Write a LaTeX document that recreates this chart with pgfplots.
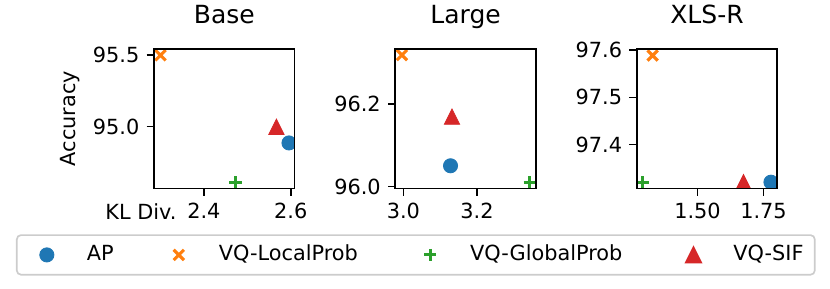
\documentclass[border=0pt]{standalone}
\usepackage{fontspec}
\setmainfont{DejaVu Sans}
\usepackage{pgfplots}
\pgfplotsset{compat=1.18}
\definecolor{tabblue}{HTML}{1F77B4}
\definecolor{taborange}{HTML}{FF7F0E}
\definecolor{tabgreen}{HTML}{2CA02C}
\definecolor{tabred}{HTML}{D62728}
\definecolor{legframe}{HTML}{CCCCCC}
\pgfplotsset{
  myax/.style={
    scale only axis, width=67.5pt, height=67pt, anchor=south west,
    axis line style={line width=0.8pt, black},
    tick align=outside, major tick length=3.5pt,
    every tick/.style={line width=0.8pt, black},
    tick pos=left,
    /pgf/number format/assume math mode=true,
    tick label style={font=\fontsize{10}{12}\selectfont},
    yticklabel style={/pgf/number format/.cd, fixed, fixed zerofill, precision=1},
    xticklabel style={/pgf/number format/.cd, fixed, fixed zerofill, precision=1},
    title style={at={(0.5,1)}, anchor=base, yshift=6.2pt, inner sep=0pt, font=\fontsize{12}{14}\selectfont},
    clip marker paths=true, axis on top,
  },
  myleg/.style={legend image code/.code={\path[draw=none,fill=none] (-14.4pt,0pt) -- (5pt,0pt); \draw[##1, /tikz/only marks] plot coordinates {(0pt,0pt)};}},
  ap/.style={only marks, mark=*, mark size=3.4pt, color=tabblue, line width=0.4pt, mark options={draw=tabblue, fill=tabblue, line width=0.4pt}, myleg},
  lp/.style={only marks, mark=x, mark size=3.5pt, color=taborange, line width=1.5pt, mark options={line width=1.5pt}, myleg},
  gp/.style={only marks, mark=+, mark size=2.95pt, color=tabgreen, line width=1.5pt, mark options={line width=1.5pt}, myleg},
  sif/.style={only marks, mark=triangle*, mark size=4.9pt, color=tabred, mark options={fill=tabred, draw=none, xscale=0.866, yshift=-1.225pt, sharp corners}, myleg},
}
\begin{document}
\begin{tikzpicture}
\useasboundingbox (0,0) rectangle (398.4pt,138.72pt);
% Base
\begin{axis}[myax, at={(73.92pt,48.24pt)}, title={Base},
  xmin=2.285, xmax=2.609, ymin=94.5655, ymax=95.5445,
  xtick={2.4,2.6}, ytick={95.0,95.5},
  xlabel={KL Div.},
  xlabel style={at={(0,0)}, anchor=base east, xshift=11pt, yshift=-14.7pt, inner sep=0pt, font=\fontsize{10}{12}\selectfont},
  ylabel={Accuracy},
  ylabel style={at={(-0.526,0.5)}, anchor=south, inner sep=0pt, font=\fontsize{10}{12}\selectfont},
  legend columns=4,
  legend style={at={(0,0)}, anchor=north west, xshift=-66.24pt, yshift=-21.98pt,
    draw=legframe, line width=0.8pt, rounded corners=2pt, fill=white,
    inner xsep=0pt, inner ysep=4.5pt, column sep=0pt,
    nodes={inner sep=0pt, text height=7.5pt, text depth=2.5pt, font=\fontsize{10}{12}\selectfont}},
]
\addplot[ap] coordinates {(2.596,94.885)};
\addlegendentry{\hspace*{14.2pt}\makebox[29.76pt][l]{AP}}
\addplot[lp] coordinates {(2.300,95.500)};
\addlegendentry{\hspace*{14.2pt}\makebox[87.04pt][l]{VQ-LocalProb}}
\addplot[gp] coordinates {(2.473,94.610)};
\addlegendentry{\hspace*{14.2pt}\makebox[92.8pt][l]{VQ-GlobalProb}}
\addplot[sif] coordinates {(2.567,94.998)};
\addlegendentry{\hspace*{14.2pt}\makebox[39pt][l]{VQ-SIF}}
\end{axis}
% Large
\begin{axis}[myax, at={(189.74pt,48.24pt)}, title={Large},
  xmin=2.978, xmax=3.360, ymin=95.995, ymax=96.333,
  xtick={3.0,3.2}, ytick={96.0,96.2},
]
\addplot[ap] coordinates {(3.128,96.050)};
\addplot[lp] coordinates {(2.996,96.318)};
\addplot[gp] coordinates {(3.343,96.010)};
\addplot[sif] coordinates {(3.132,96.169)};
\end{axis}
% XLS-R
\begin{axis}[myax, at={(305.6pt,48.24pt)}, title={XLS-R},
  xmin=1.2695, xmax=1.802, ymin=97.3066, ymax=97.603,
  xtick={1.5,1.75}, ytick={97.4,97.5,97.6},
  xticklabel style={/pgf/number format/.cd, fixed, fixed zerofill, precision=2},
]
\addplot[ap] coordinates {(1.778,97.320)};
\addplot[lp] coordinates {(1.330,97.589)};
\addplot[gp] coordinates {(1.293,97.320)};
\addplot[sif] coordinates {(1.674,97.320)};
\end{axis}
\end{tikzpicture}
\end{document}
